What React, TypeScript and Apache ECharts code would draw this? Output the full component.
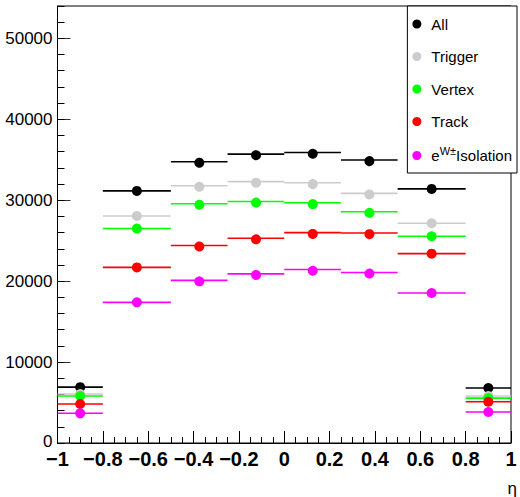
import React, { useEffect, useRef } from "react";
import * as echarts from "echarts";

const binEdges = [-1, -0.8, -0.5, -0.25, 0, 0.25, 0.5, 0.8, 1];
const seriesNames = ["All", "Trigger", "Vertex", "Track", "Isolation"];
const seriesColors = ["#000000", "#cccccc", "#00ff00", "#ff0000", "#ff00ff"];
const allValues = [6900, 31150, 34750, 35700, 35900, 34970, 31400, 6800];
const triggerValues = [6050, 28050, 31780, 32300, 32150, 30850, 27150, 5800];
const vertexValues = [5800, 26500, 29560, 29850, 29680, 28580, 25550, 5550];
const trackValues = [4820, 21700, 24400, 25300, 26000, 25950, 23400, 5100];
const isolationValues = [3670, 17380, 20090, 20900, 21440, 21070, 18530, 3830];
const allSeriesValues = [allValues, triggerValues, vertexValues, trackValues, isolationValues];
const xTicks = [-1, -0.8, -0.6, -0.4, -0.2, 0, 0.2, 0.4, 0.6, 0.8, 1];
const yTicks = [0, 10000, 20000, 30000, 40000, 50000];

const FONT = "'Liberation Sans', Arial, Helvetica, sans-serif";

function fmtX(v: number): string {
  const r = Math.round(v * 10) / 10;
  if (r === 0) return "0";
  const s = String(Math.abs(r));
  return r < 0 ? "\u2212" + s : s;
}

export default function App() {
  const ref = useRef<HTMLDivElement>(null);
  useEffect(() => {
    if (!ref.current) return;
    const chart = echarts.init(ref.current, undefined, { renderer: "svg" });
    const series = seriesNames.map((name, si) => {
      const color = seriesColors[si];
      const data = allSeriesValues[si].map((v, i) => [binEdges[i], binEdges[i + 1], v]);
      return {
        type: "custom",
        name,
        xAxisIndex: 0,
        yAxisIndex: 0,
        itemStyle: { color },
        data,
        z: 10 + si,
        renderItem: (params: any, api: any) => {
          const lo = api.value(0);
          const hi = api.value(1);
          const v = api.value(2);
          const p1 = api.coord([lo, v]);
          const p2 = api.coord([hi, v]);
          const c = api.coord([(lo + hi) / 2, v]);
          return {
            type: "group",
            children: [
              {
                type: "line",
                shape: { x1: p1[0], y1: p1[1], x2: p2[0], y2: p2[1] },
                style: { stroke: color, lineWidth: 1.6 },
              },
              {
                type: "circle",
                shape: { cx: c[0], cy: c[1], r: 5 },
                style: { fill: color },
              },
            ],
          };
        },
      };
    });

    chart.setOption({
      animation: false,
      backgroundColor: "#ffffff",
      grid: {
        left: 57.5,
        right: 3.3,
        top: 6,
        bottom: 53,
        show: true,
        borderColor: "#000",
        borderWidth: 1,
        backgroundColor: "transparent",
      },
      legend: {
        orient: "vertical",
        right: 3,
        top: 6,
        padding: [9, 5, 7, 5],
        itemGap: 14.5,
        itemWidth: 19,
        itemHeight: 9,
        icon: "circle",
        backgroundColor: "#fff",
        borderColor: "#000",
        borderWidth: 1,
        data: seriesNames.map((n) => ({ name: n, icon: "circle" })),
        formatter: (name: string) =>
          name === "Isolation" ? "{n|e}{s|W\u00b1}{n|Isolation}" : name,
        textStyle: {
          fontFamily: FONT,
          fontSize: 15,
          color: "#000",
          lineHeight: 18,
          rich: {
            n: { fontFamily: FONT, fontSize: 15, lineHeight: 18, color: "#000" },
            s: {
              fontFamily: FONT,
              fontSize: 11,
              lineHeight: 8,
              padding: [0, 0, 10, 0],
              color: "#000",
            },
          },
        },
      },
      xAxis: {
        type: "value",
        min: xTicks[0],
        max: xTicks[xTicks.length - 1],
        interval: 0.2,
        name: "\u03b7",
        nameLocation: "end",
        nameGap: 6,
        nameTextStyle: {
          fontFamily: FONT,
          fontSize: 17,
          color: "#000",
          align: "right",
          verticalAlign: "top",
          padding: [37, 0, 0, 0],
        },
        axisLine: { show: true, onZero: false, lineStyle: { color: "#000", width: 1 } },
        axisTick: { show: true, inside: true, length: 12, lineStyle: { color: "#000" } },
        minorTick: { show: true, splitNumber: 4, length: 6, lineStyle: { color: "#000" } },
        splitLine: { show: false },
        axisLabel: {
          fontFamily: FONT,
          fontSize: 20,
          fontWeight: "bold",
          color: "#000",
          margin: 7,
          lineHeight: 18,
          hideOverlap: false,
          formatter: (v: number) => fmtX(v),
        },
      },
      yAxis: [
        {
          type: "value",
          position: "left",
          min: yTicks[0],
          max: 54000,
          interval: 10000,
          axisLine: { show: true, onZero: false, lineStyle: { color: "#000", width: 1 } },
          axisTick: { show: true, inside: true, length: 13, lineStyle: { color: "#333" } },
          splitLine: { show: false },
          axisLabel: {
            fontFamily: FONT,
            fontSize: 17,
            color: "#000",
            margin: 5,
            lineHeight: 12,
            showMaxLabel: false,
            formatter: (v: number) =>
              v === 0 ? "{z|0}" : yTicks.indexOf(v) >= 0 ? String(v) : "",
            rich: {
              z: { fontFamily: FONT, fontSize: 17, color: "#000", lineHeight: 12, padding: [0, 0, 4, 0] },
            },
          },
        },
        {
          type: "value",
          position: "left",
          min: 0,
          max: 54000,
          interval: 2000,
          axisLine: { show: false, onZero: false },
          axisTick: { show: true, inside: true, length: 7, lineStyle: { color: "#000" } },
          splitLine: { show: false },
          axisLabel: { show: false },
        },
      ],
      series,
    });
    return () => chart.dispose();
  }, []);
  return (
    <div
      ref={ref}
      style={{ position: "fixed", left: 0, top: 0, width: 520, height: 497, background: "#fff" }}
    />
  );
}
